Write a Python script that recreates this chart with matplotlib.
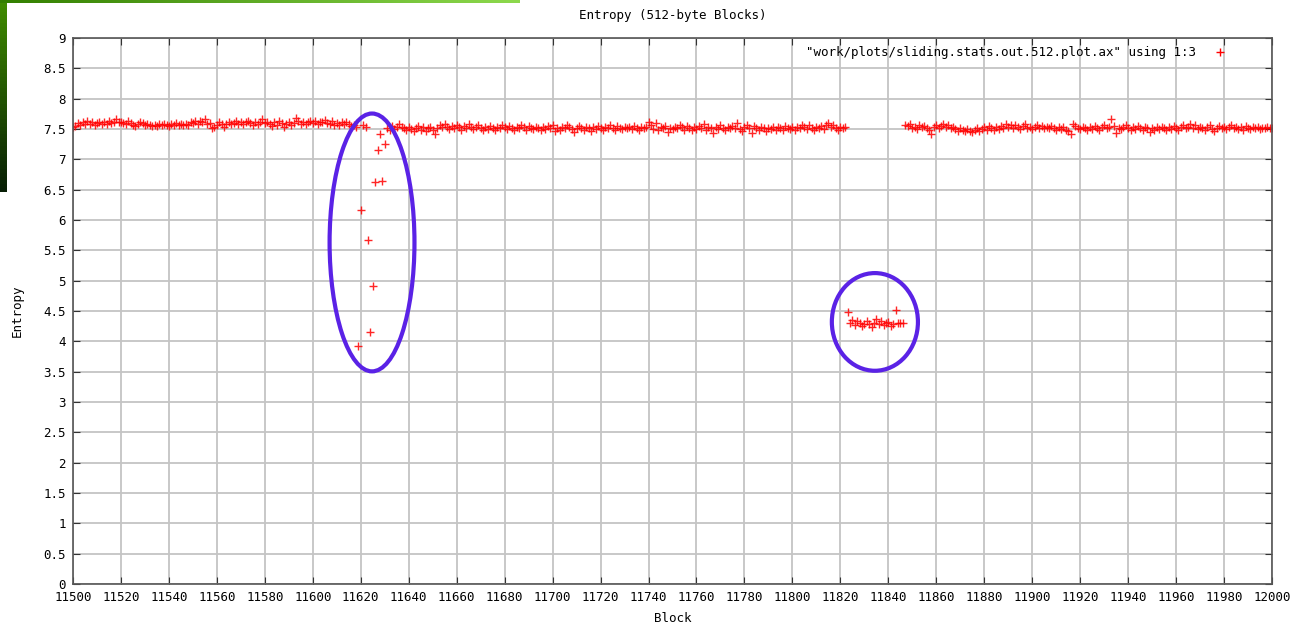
import numpy as np
import matplotlib
matplotlib.use("Agg")
import matplotlib.pyplot as plt
from matplotlib.patches import Ellipse

# ---- data ----
# segment A: blocks 11500..11618, high-entropy band
seg_a_start = 11500
seg_a = [
    7.53, 7.55, 7.60, 7.57, 7.62, 7.59, 7.64, 7.58, 7.61, 7.57, 7.60, 7.62, 7.58, 7.61, 7.59, 7.63, 7.60, 7.62, 7.66, 7.61,
    7.62, 7.60, 7.58, 7.63, 7.60, 7.57, 7.55, 7.59, 7.62, 7.60, 7.57, 7.58, 7.56, 7.55, 7.57, 7.55, 7.58, 7.56, 7.59, 7.57,
    7.55, 7.58, 7.56, 7.60, 7.57, 7.59, 7.56, 7.58, 7.57, 7.61, 7.60, 7.63, 7.59, 7.64, 7.61, 7.66, 7.58, 7.60, 7.52, 7.54,
    7.57, 7.61, 7.58, 7.53, 7.59, 7.62, 7.58, 7.60, 7.63, 7.59, 7.61, 7.58, 7.62, 7.64, 7.60, 7.57, 7.62, 7.59, 7.61, 7.66,
    7.60, 7.62, 7.58, 7.55, 7.61, 7.57, 7.64, 7.60, 7.53, 7.59, 7.62, 7.57, 7.60, 7.68, 7.63, 7.59, 7.62, 7.58, 7.61, 7.64,
    7.60, 7.63, 7.59, 7.62, 7.61, 7.65, 7.60, 7.58, 7.63, 7.56, 7.60, 7.57, 7.61, 7.59, 7.62, 7.58, 7.55, 7.57, 7.53,
]

# the drop around block 11620
dip_blocks = [11619, 11620, 11621, 11622, 11623, 11624, 11625, 11626, 11627, 11628, 11629, 11630]
dip_values = [3.93, 6.17, 7.56, 7.53, 5.67, 4.15, 4.91, 6.63, 7.15, 7.41, 6.65, 7.26]

# segment B: blocks 11631..11822
seg_b_start = 11631
seg_b = [
    7.52, 7.49, 7.55, 7.50, 7.53, 7.58, 7.54, 7.51, 7.48, 7.53, 7.50, 7.47, 7.52, 7.55, 7.49, 7.53, 7.46, 7.51, 7.54, 7.48,
    7.41, 7.52, 7.56, 7.53, 7.59, 7.54, 7.50, 7.55, 7.51, 7.57, 7.53, 7.49, 7.55, 7.52, 7.58, 7.54, 7.50, 7.53, 7.56, 7.51,
    7.48, 7.53, 7.50, 7.55, 7.52, 7.49, 7.54, 7.51, 7.57, 7.53, 7.50, 7.55, 7.52, 7.48, 7.54, 7.51, 7.56, 7.53, 7.49, 7.55,
    7.52, 7.50, 7.54, 7.51, 7.48, 7.53, 7.50, 7.55, 7.52, 7.56, 7.47, 7.52, 7.49, 7.54, 7.51, 7.57, 7.53, 7.50, 7.45, 7.52,
    7.55, 7.51, 7.49, 7.54, 7.51, 7.47, 7.53, 7.50, 7.55, 7.52, 7.48, 7.54, 7.51, 7.56, 7.52, 7.49, 7.55, 7.52, 7.50, 7.54,
    7.51, 7.53, 7.50, 7.55, 7.52, 7.49, 7.54, 7.51, 7.53, 7.62, 7.56, 7.50, 7.60, 7.48, 7.53, 7.51, 7.55, 7.45, 7.52, 7.50,
    7.54, 7.51, 7.56, 7.53, 7.49, 7.55, 7.51, 7.48, 7.53, 7.50, 7.55, 7.52, 7.58, 7.49, 7.54, 7.51, 7.44, 7.53, 7.50, 7.56,
    7.52, 7.48, 7.54, 7.51, 7.55, 7.52, 7.60, 7.50, 7.47, 7.53, 7.57, 7.51, 7.44, 7.55, 7.52, 7.49, 7.54, 7.51, 7.47, 7.52,
    7.50, 7.54, 7.49, 7.53, 7.51, 7.48, 7.55, 7.52, 7.50, 7.53, 7.49, 7.54, 7.51, 7.57, 7.53, 7.50, 7.56, 7.52, 7.49, 7.54,
    7.51, 7.55, 7.50, 7.57, 7.60, 7.53, 7.56, 7.52, 7.49, 7.54, 7.51, 7.53,
]

# low-entropy cluster: blocks 11823..11846
low_start = 11823
low_vals = [
    4.48, 4.31, 4.35, 4.27, 4.33, 4.30, 4.25, 4.29, 4.34, 4.28, 4.24, 4.31,
    4.36, 4.29, 4.33, 4.27, 4.30, 4.32, 4.26, 4.29, 4.52, 4.31, 4.30, 4.31,
]

# segment C: blocks 11847..12000
seg_c_start = 11847
seg_c = [
    7.57, 7.55, 7.58, 7.52, 7.54, 7.50, 7.56, 7.53, 7.55, 7.51, 7.49, 7.42, 7.54, 7.57, 7.52, 7.55, 7.58, 7.53, 7.56, 7.51,
    7.54, 7.50, 7.47, 7.52, 7.49, 7.46, 7.50, 7.47, 7.45, 7.49, 7.52, 7.46, 7.50, 7.53, 7.48, 7.55, 7.51, 7.49, 7.53, 7.50,
    7.55, 7.51, 7.59, 7.54, 7.57, 7.52, 7.56, 7.53, 7.50, 7.55, 7.58, 7.52, 7.54, 7.50, 7.53, 7.56, 7.51, 7.55, 7.52, 7.54,
    7.51, 7.55, 7.52, 7.49, 7.54, 7.50, 7.53, 7.48, 7.46, 7.42, 7.59, 7.55, 7.52, 7.50, 7.54, 7.51, 7.49, 7.53, 7.50, 7.55,
    7.52, 7.49, 7.54, 7.57, 7.51, 7.53, 7.66, 7.55, 7.44, 7.52, 7.50, 7.54, 7.57, 7.51, 7.49, 7.53, 7.50, 7.55, 7.52, 7.48,
    7.54, 7.51, 7.45, 7.52, 7.49, 7.53, 7.50, 7.54, 7.51, 7.48, 7.53, 7.50, 7.55, 7.52, 7.49, 7.53, 7.57, 7.51, 7.54, 7.58,
    7.52, 7.56, 7.50, 7.54, 7.51, 7.48, 7.53, 7.57, 7.50, 7.46, 7.52, 7.55, 7.51, 7.54, 7.50, 7.53, 7.56, 7.51, 7.54, 7.50,
    7.53, 7.49, 7.55, 7.52, 7.50, 7.54, 7.51, 7.53, 7.50, 7.52, 7.51, 7.53, 7.52, 7.51,
]

# annotation ellipses (center x, center y, width, height) in data units
circles = [(11624.7, 5.63, 35.4, 4.25), (11834.4, 4.32, 35.9, 1.61)]

legend_label = '"work/plots/sliding.stats.out.512.plot.ax" using 1:3'


def main():
    blocks = np.concatenate([
        np.arange(seg_a_start, seg_a_start + len(seg_a)),
        np.array(dip_blocks),
        np.arange(seg_b_start, seg_b_start + len(seg_b)),
        np.arange(low_start, low_start + len(low_vals)),
        np.arange(seg_c_start, seg_c_start + len(seg_c)),
    ])
    entropy = np.concatenate([seg_a, dip_values, seg_b, low_vals, seg_c])

    mono = "DejaVu Sans Mono"
    fs = 9

    fig = plt.figure(figsize=(13.03, 6.27), dpi=100)
    ax = fig.add_axes([73 / 1303, 1 - 584 / 627, 1199 / 1303, 546 / 627])

    ax.plot(blocks, entropy, linestyle="none", marker="+", color="#ff0000",
            markersize=6, markeredgewidth=1.0, alpha=0.85)

    ax.set_xlim(11500, 12000)
    ax.set_ylim(0, 9)
    ax.set_xticks(np.arange(11500, 12001, 20))
    ax.set_yticks(np.arange(0, 9.01, 0.5))
    ax.set_yticklabels([f"{v:g}" for v in np.arange(0, 9.01, 0.5)])

    ax.grid(True, color="#c4c4c4", linewidth=1.3)
    ax.set_axisbelow(True)
    ax.tick_params(direction="in", top=True, right=True, length=5,
                   color="#333333", labelsize=fs, pad=5)
    for lbl in ax.get_xticklabels() + ax.get_yticklabels():
        lbl.set_family(mono)
    for sp in ax.spines.values():
        sp.set_color("#555555")
        sp.set_linewidth(1.2)

    ax.set_title("Entropy (512-byte Blocks)", family=mono, fontsize=fs, pad=14)
    ax.set_xlabel("Block", family=mono, fontsize=fs, labelpad=6)
    ax.set_ylabel("Entropy", family=mono, fontsize=fs, labelpad=14)

    # gnuplot style key, top right
    ax.text(0.937, 0.974, legend_label, transform=ax.transAxes, family=mono,
            fontsize=fs, ha="right", va="center")
    ax.plot([0.957], [0.974], transform=ax.transAxes, marker="+",
            color="#ff0000", markersize=6, markeredgewidth=1.0, linestyle="none")

    for cx, cy, w, h in circles:
        ax.add_patch(Ellipse((cx, cy), w, h, fill=False, edgecolor="#5a22e6",
                             linewidth=3.0, zorder=5))

    # screenshot edge artifacts
    side = fig.add_axes([0, 1 - 192 / 627, 7 / 1303, 192 / 627])
    grad = np.linspace(0, 1, 50)[:, None, None]
    top_col = np.array([0.25, 0.55, 0.0])
    bot_col = np.array([0.03, 0.12, 0.02])
    side.imshow(top_col * (1 - grad) + bot_col * grad, aspect="auto")
    side.axis("off")
    strip = fig.add_axes([0, 1 - 3 / 627, 520 / 1303, 3 / 627])
    hgrad = np.linspace(0, 1, 50)[None, :, None]
    strip.imshow(np.array([0.2, 0.5, 0.0]) * (1 - hgrad) + np.array([0.55, 0.85, 0.3]) * hgrad,
                 aspect="auto")
    strip.axis("off")

    fig.savefig("out.png", dpi=100, facecolor="white")


if __name__ == "__main__":
    main()
